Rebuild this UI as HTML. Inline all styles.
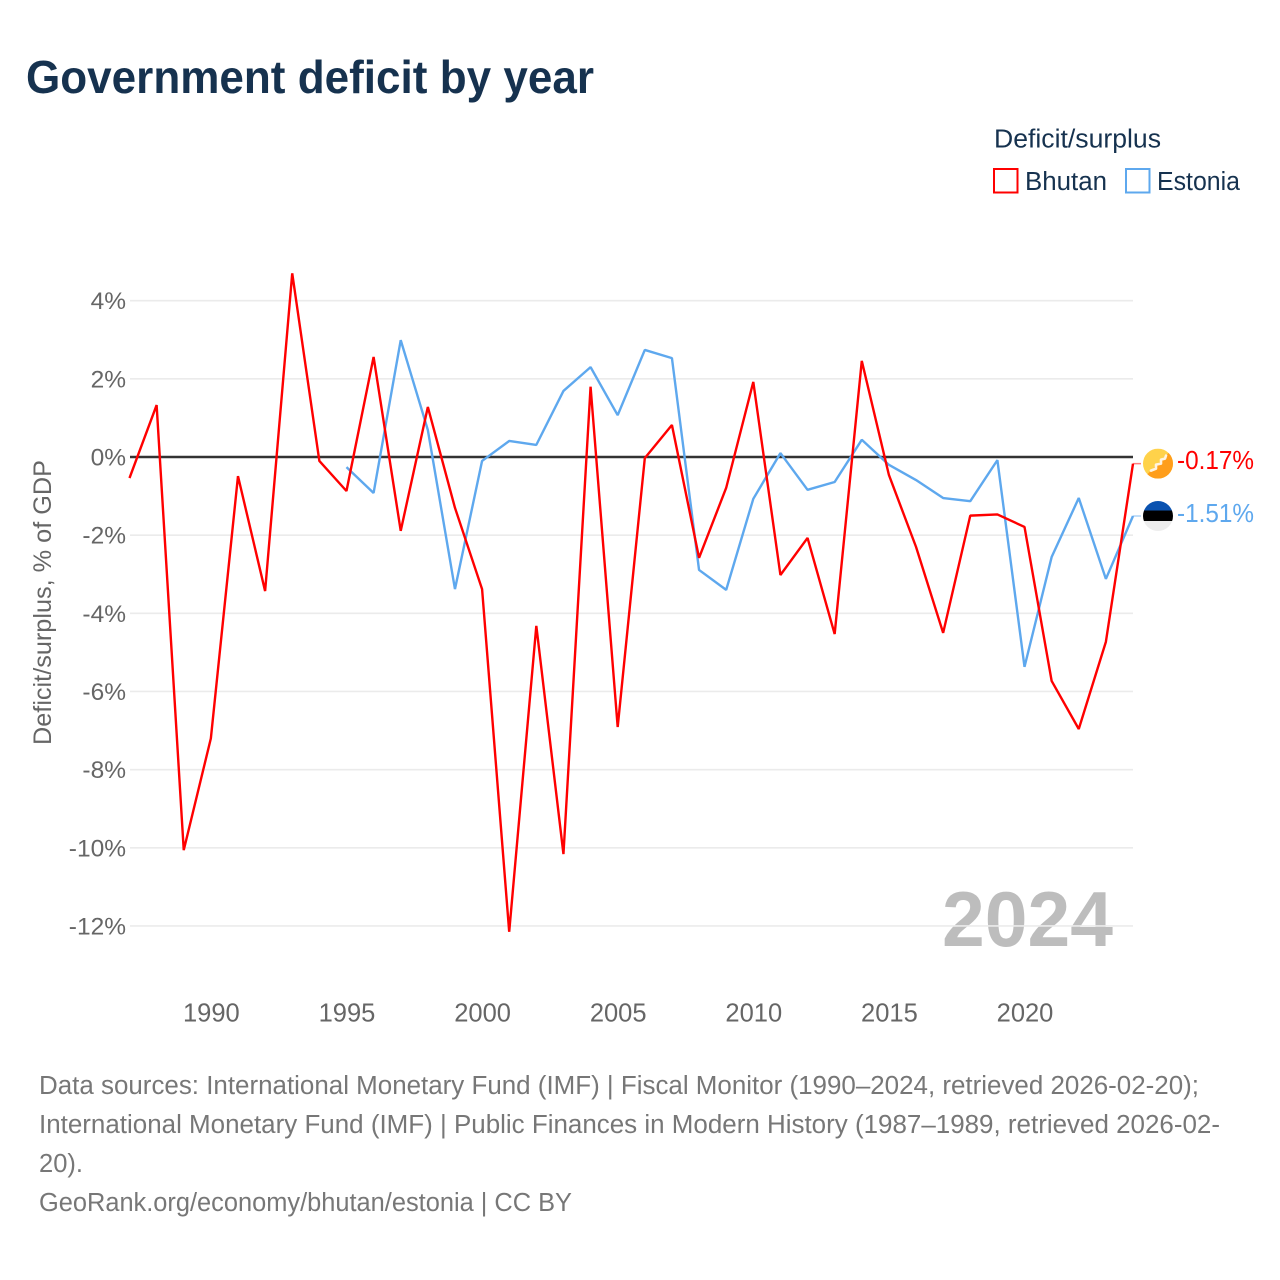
<!DOCTYPE html>
<html lang="en">
<head>
<meta charset="utf-8">
<title>Government deficit by year</title>
<style>
html,body{margin:0;padding:0;background:#fff;}
svg{display:block;font-family:"Liberation Sans",sans-serif;}
</style>
</head>
<body>
<svg id="chart" width="1280" height="1280" viewBox="0 0 1280 1280" xmlns="http://www.w3.org/2000/svg">
  <defs>
    <clipPath id="clip-flag-bt"><circle id="clip-bt" cx="1158" cy="464" r="15"></circle></clipPath>
    <clipPath id="clip-flag-ee"><circle id="clip-ee" cx="1158" cy="516" r="15"></circle></clipPath>
  </defs>

  <text x="26" y="93" font-size="46" font-weight="700" fill="#16324f" textLength="568" lengthAdjust="spacingAndGlyphs">Government deficit by year</text>

  <g>
    <text x="994" y="147.5" font-size="25.5" fill="#16324f" textLength="167" lengthAdjust="spacingAndGlyphs">Deficit/surplus</text>
    <rect x="994" y="169" width="23.5" height="23.5" fill="#fff" stroke="#ff0000" stroke-width="2"></rect>
    <text x="1025" y="190" font-size="25.5" fill="#16324f" textLength="82" lengthAdjust="spacingAndGlyphs">Bhutan</text>
    <rect x="1126" y="169" width="23.5" height="23.5" fill="#fff" stroke="#5ea8ee" stroke-width="2"></rect>
    <text x="1157" y="190" font-size="25.5" fill="#16324f" textLength="83" lengthAdjust="spacingAndGlyphs">Estonia</text>
  </g>

  <text transform="translate(51 745) rotate(-90)" x="0" y="0" font-size="25" fill="#666666" textLength="285" lengthAdjust="spacingAndGlyphs">Deficit/surplus, % of GDP</text>

  <text x="942" y="946" font-size="78" font-weight="700" fill="#000000" fill-opacity="0.26" textLength="171" lengthAdjust="spacingAndGlyphs">2024</text>

  <g id="grid"></g>
  <g id="y-ticks"></g>
  <g id="x-ticks"></g>
  <g id="series"></g>

  <g id="flag-bhutan" clip-path="url(#clip-flag-bt)"></g>
  <g id="flag-estonia" clip-path="url(#clip-flag-ee)"></g>
  <g id="end-labels"></g>

  <g font-size="25.5" fill="#777777">
    <text x="39" y="1094" textLength="1160" lengthAdjust="spacingAndGlyphs">Data sources: International Monetary Fund (IMF) | Fiscal Monitor (1990–2024, retrieved 2026-02-20);</text>
    <text x="39" y="1133" textLength="1181" lengthAdjust="spacingAndGlyphs">International Monetary Fund (IMF) | Public Finances in Modern History (1987–1989, retrieved 2026-02-</text>
    <text x="39" y="1172" textLength="44" lengthAdjust="spacingAndGlyphs">20).</text>
    <text x="39" y="1211" textLength="533" lengthAdjust="spacingAndGlyphs">GeoRank.org/economy/bhutan/estonia | CC BY</text>
  </g>
</svg>

<script>
const years = [1987,1988,1989,1990,1991,1992,1993,1994,1995,1996,1997,1998,1999,2000,2001,2002,2003,2004,2005,2006,2007,2008,2009,2010,2011,2012,2013,2014,2015,2016,2017,2018,2019,2020,2021,2022,2023,2024];
const bhutanValues = [-0.54,1.33,-10.06,-7.2,-0.49,-3.43,4.7,-0.1,-0.87,2.56,-1.89,1.28,-1.3,-3.38,-12.15,-4.32,-10.16,1.8,-6.91,-0.03,0.82,-2.58,-0.79,1.92,-3.02,-2.07,-4.53,2.46,-0.46,-2.3,-4.5,-1.5,-1.47,-1.79,-5.73,-6.96,-4.73,-0.17];
const estoniaValues = [null,null,null,null,null,null,null,null,-0.26,-0.92,2.99,0.69,-3.38,-0.1,0.41,0.31,1.69,2.3,1.07,2.74,2.53,-2.89,-3.4,-1.07,0.1,-0.84,-0.64,0.44,-0.2,-0.59,-1.05,-1.13,-0.08,-5.37,-2.56,-1.05,-3.12,-1.51];
const yTicks = [4,2,0,-2,-4,-6,-8,-10,-12];
const xTicks = [1990,1995,2000,2005,2010,2015,2020];
const bhutanLabel = "-0.17%";
const estoniaLabel = "-1.51%";

const NS = "http://www.w3.org/2000/svg";
const xScale = function (year) { return 129.5 + (year - 1987) * (1133 - 129.5) / 37; };
const yScale = function (value) { return 457 - value * 39.08; };

function make(tag, parent, attrs) {
  const el = document.createElementNS(NS, tag);
  Object.keys(attrs).forEach(function (k) { el.setAttribute(k, attrs[k]); });
  parent.appendChild(el);
  return el;
}

const gridGroup = document.getElementById("grid");
const yTickGroup = document.getElementById("y-ticks");
yTicks.forEach(function (t) {
  const line = make("line", gridGroup, {
    x1: 130, x2: 1133, y1: yScale(t), y2: yScale(t),
    stroke: t === 0 ? "#333333" : "#ebebeb",
    "stroke-width": t === 0 ? 2.6 : 1.6
  });
  
  
  const label = make("text", yTickGroup, {
    x: 126, y: yScale(t) + 8.5, "text-anchor": "end", "font-size": 24.5, fill: "#666666"
  });
  label.textContent = t + "%";
  
  
});

const xTickGroup = document.getElementById("x-ticks");
xTicks.forEach(function (t) {
  const label = make("text", xTickGroup, {
    x: xScale(t) + 0.5, y: 1021.5, "text-anchor": "middle", "font-size": 25.5, fill: "#666666"
  });
  label.textContent = String(t);
  
  
});

function drawSeries(values, color, name) {
  const group = document.getElementById("series");
  const pts = [];
  values.forEach(function (v, i) {
    if (v !== null) { pts.push(xScale(years[i]).toFixed(2) + "," + yScale(v).toFixed(2)); }
  });
  const line = make("polyline", group, {
    points: pts.join(" "), fill: "none", stroke: color, "stroke-width": 2.4, "stroke-linejoin": "bevel"
  });
  
  
  const last = yScale(values[values.length - 1]);
  const connector = make("line", group, {
    x1: xScale(years[years.length - 1]), x2: 1141, y1: last, y2: last, stroke: color, "stroke-width": 1.5, "stroke-opacity": 0.5
  });
  
  
}
drawSeries(estoniaValues, "#5ea8ee", "estonia-line");
drawSeries(bhutanValues, "#ff0000", "bhutan-line");

const btY = yScale(bhutanValues[bhutanValues.length - 1]);
const eeY = yScale(estoniaValues[estoniaValues.length - 1]);
document.getElementById("clip-bt").setAttribute("cy", btY);
document.getElementById("clip-ee").setAttribute("cy", eeY);

const bt = document.getElementById("flag-bhutan");
make("rect", bt, { x: 1143, y: btY - 15, width: 30, height: 30, fill: "#ffd24a" });
make("polygon", bt, { points: [1173, btY - 15, 1173, btY + 15, 1143, btY + 15].join(","), fill: "#ff9e1b" });
make("path", bt, {
  d: "M1151 " + (btY + 7) + " l5 -2 l0 -4 l5 -1 l0 -4 l4 -1 l1 -3",
  fill: "none", stroke: "#fff4e0", "stroke-width": 2.6, "stroke-linecap": "round", "stroke-linejoin": "round"
});

const ee = document.getElementById("flag-estonia");
make("rect", ee, { x: 1143, y: eeY - 16, width: 30, height: 10.5, fill: "#0a52b0" });
make("rect", ee, { x: 1143, y: eeY - 5.5, width: 30, height: 10.5, fill: "#000000" });
make("rect", ee, { x: 1143, y: eeY + 5, width: 30, height: 11, fill: "#ededed" });

const labelGroup = document.getElementById("end-labels");
const btText = make("text", labelGroup, { x: 1177, y: btY + 5.5, "font-size": 25.5, fill: "#ff0000", textLength: 77, lengthAdjust: "spacingAndGlyphs" });
btText.textContent = bhutanLabel;


const eeText = make("text", labelGroup, { x: 1177, y: eeY + 6, "font-size": 25.5, fill: "#5ea8ee", textLength: 77, lengthAdjust: "spacingAndGlyphs" });
eeText.textContent = estoniaLabel;


</script>
</body>
</html>
